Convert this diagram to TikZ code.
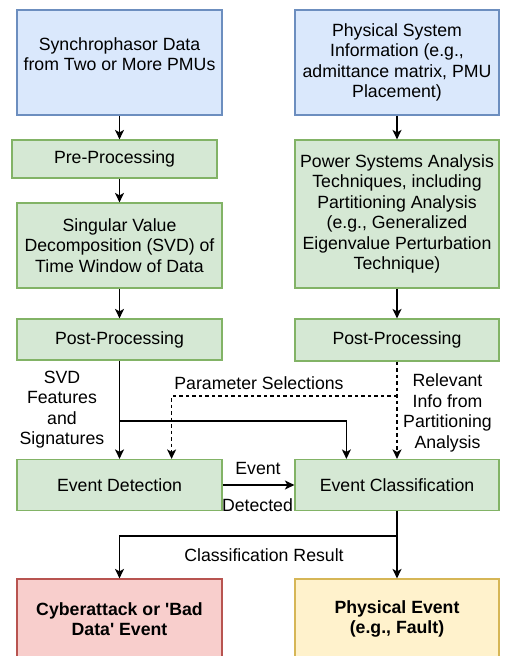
\documentclass[tikz,border=0pt]{standalone}
\usepackage{fontspec}
\setmainfont{Liberation Sans}
\usetikzlibrary{arrows.meta}
\definecolor{bluefill}{HTML}{DAE8FC}
\definecolor{blueline}{HTML}{6C8EBF}
\definecolor{greenfill}{HTML}{D5E8D4}
\definecolor{greenline}{HTML}{82B366}
\definecolor{redfill}{HTML}{F8CECC}
\definecolor{redline}{HTML}{B85450}
\definecolor{yellowfill}{HTML}{FFF2CC}
\definecolor{yellowline}{HTML}{D6B656}
\begin{document}
\begin{tikzpicture}[x=1pt,y=-1pt,
		box/.style={draw,line width=1.2pt,align=center,inner sep=0pt,minimum width=205pt,font=\fontsize{17.7}{20.5}\selectfont},
		bluebox/.style={box,draw=blueline,fill=bluefill},
		greenbox/.style={box,draw=greenline,fill=greenfill},
		redbox/.style={box,draw=redline,fill=redfill,font=\fontsize{17.7}{20.5}\selectfont\bfseries},
		yellowbox/.style={box,draw=yellowline,fill=yellowfill,font=\fontsize{17.7}{20.5}\selectfont\bfseries},
		flow/.style={line width=1.3pt,-{Stealth[length=9.5pt,width=9pt,inset=2.5pt]}},
		dflow/.style={flow,dash pattern=on 3.5pt off 3pt},
		lbl/.style={align=center,inner sep=0pt,font=\fontsize{17.7}{20.5}\selectfont}]
	\useasboundingbox (0,0) rectangle (509,656);
	\node[bluebox,minimum height=105pt] (src) at (119.5,62.5) {Synchrophasor Data\\from Two or More PMUs\\[-4pt]\mbox{}};
	\node[bluebox,minimum height=105pt,minimum width=204pt] (phys) at (397,62.5) {Physical System\\Information (e.g.,\\admittance matrix, PMU\\Placement)};
	\node[greenbox,minimum height=38pt] (pre) at (114.5,159) {Pre-Processing};
	\node[greenbox,minimum height=85pt] (svd) at (119.5,245.5) {Singular Value\\Decomposition (SVD) of\\Time Window of Data};
	\node[greenbox,minimum height=148pt,minimum width=204pt] (psa) at (397,214) {Power Systems Analysis\\Techniques, including\\Partitioning Analysis\\(e.g., Generalized\\Eigenvalue Perturbation\\Technique)};
	\node[greenbox,minimum height=41pt] (postL) at (119.5,339.5) {Post-Processing};
	\node[greenbox,minimum height=42pt,minimum width=204pt] (postR) at (397,340) {Post-Processing};
	\node[greenbox,minimum height=51pt] (det) at (119.5,485) {Event Detection};
	\node[greenbox,minimum height=51pt,minimum width=204pt] (cls) at (397,485) {Event Classification};
	\node[redbox,minimum height=80pt] (cyb) at (119.5,619) {Cyberattack or \textquotesingle Bad\\Data\textquotesingle\ Event};
	\node[yellowbox,minimum height=80pt,minimum width=204pt] (pev) at (397,619) {Physical Event\\(e.g., Fault)};

	\draw[flow] (src) -- (src |- pre.north);
	\draw[flow] (svd |- pre.south) -- (svd);
	\draw[flow] (svd) -- (postL);
	\draw[flow] (phys) -- (psa);
	\draw[flow] (psa) -- (postR);

	\coordinate (svdsplit) at (119.5,421);
	\coordinate (parsplit) at (397,396);
	\coordinate (ressplit) at (397,536);
	\draw[flow] (postL) -- (det);
	\draw[flow] (svdsplit) -| ([xshift=52pt]cls.north west);
	\draw[dflow] (postR) -- (cls);
	\draw[dflow] (parsplit) -| ([xshift=-51pt]det.north east);
	\draw[flow] (det) -- (cls);
	\draw[flow] (cls) -- (pev);
	\draw[flow] (ressplit) -| (cyb);

	\node[lbl] (svdlbl) at (62,409.5) {SVD\\Features\\and\\Signatures};
	\node[lbl] (parlbl) at (259,383.5) {Parameter Selections};
	\node[lbl] (rellbl) at (447.5,413) {Relevant\\Info from\\Partitioning\\Analysis};
	\node[lbl] (evlbl) at (258,468) {Event};
	\node[lbl] (detlbl) at (257.5,505) {Detected};
	\node[lbl] (reslbl) at (264,555) {Classification Result};
\end{tikzpicture}
\end{document}
